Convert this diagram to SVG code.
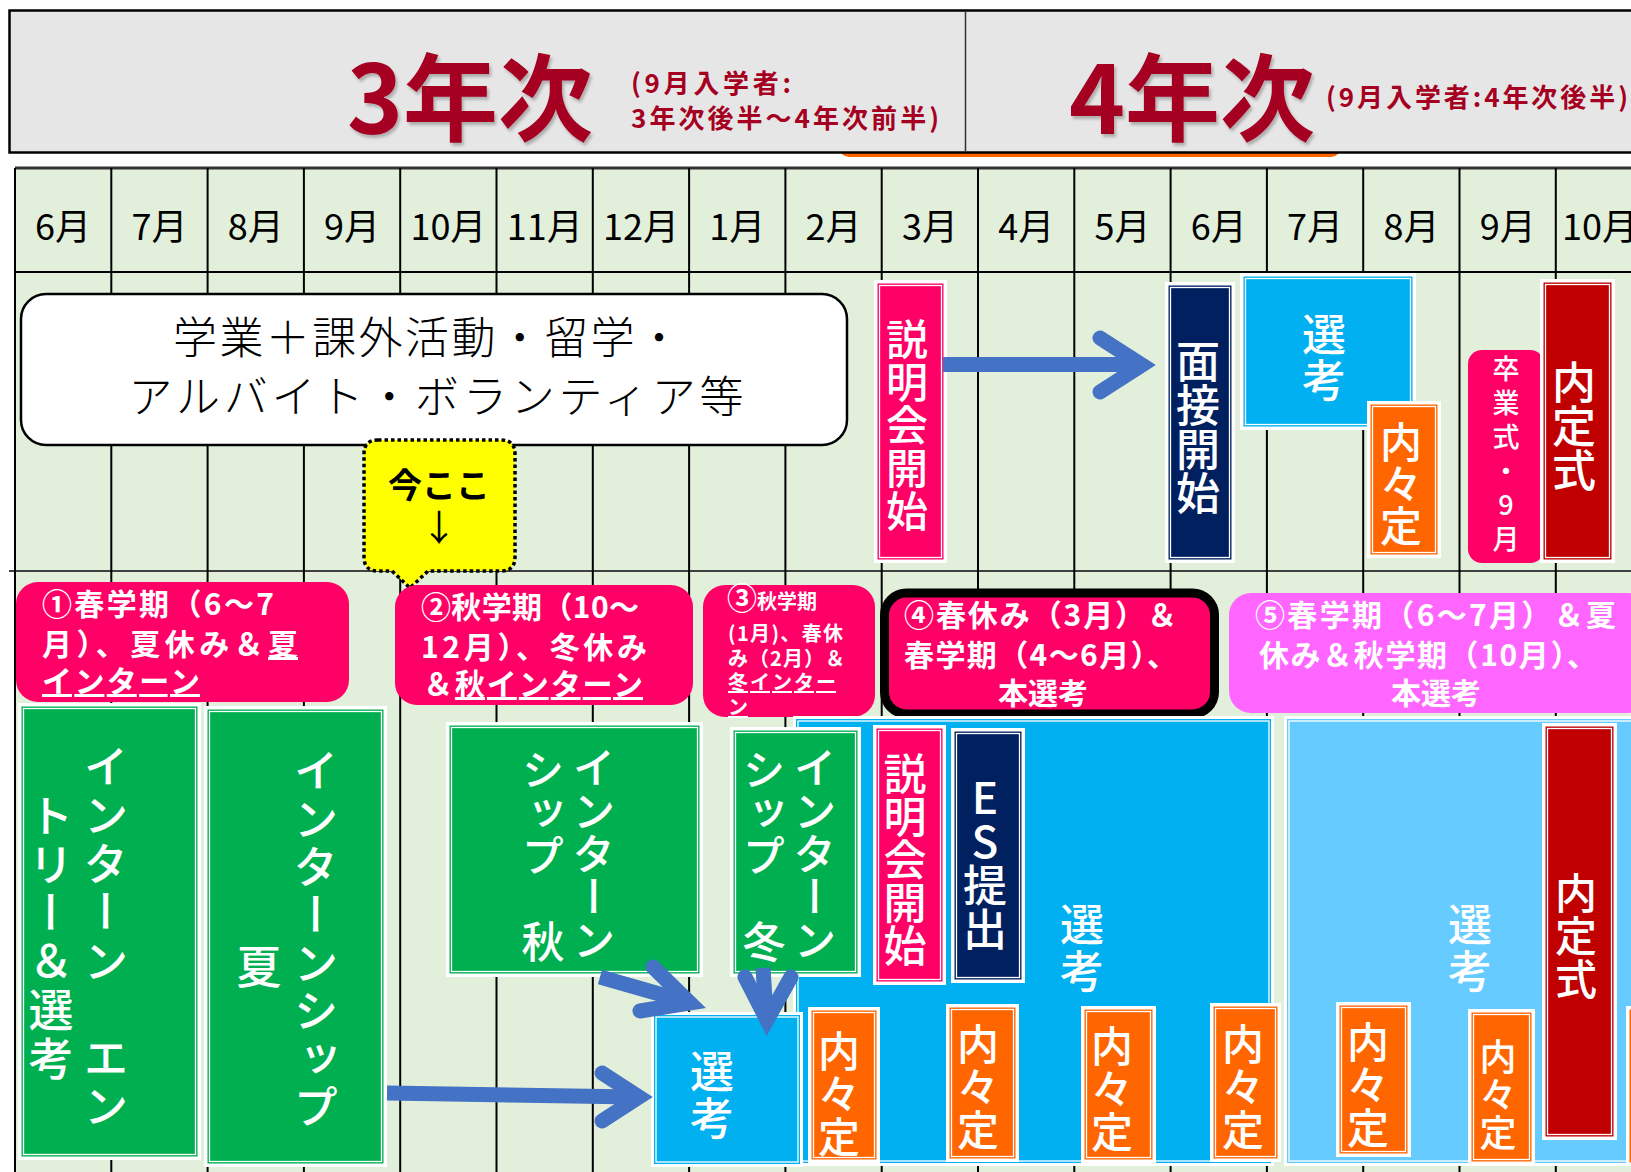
<svg xmlns="http://www.w3.org/2000/svg" width="1631" height="1172" viewBox="0 0 1631 1172">
<defs>
<style>
.jp{font-family:"Noto Sans CJK JP",sans-serif}
.mon{font-family:"Noto Sans CJK JP",sans-serif;font-size:36px;text-anchor:middle;fill:#000}
.ttl{font-family:"Noto Sans CJK JP",sans-serif;font-weight:bold;fill:#A50021}
.gl{stroke:#000;stroke-width:2}
.vt{writing-mode:vertical-rl;text-anchor:middle;fill:#fff;font-family:"Noto Sans CJK JP",sans-serif;font-weight:500}
.pt{fill:#fff;font-family:"Noto Sans CJK JP",sans-serif;font-weight:bold;font-size:30px}
.ps{fill:#fff;font-family:"Noto Sans CJK JP",sans-serif;font-weight:bold;font-size:20px}
.ul{text-decoration:underline}
.fr{fill:#fff}
.inl{fill:none;stroke:#fff;stroke-width:1.3}
.arr{stroke:#4472C4;fill:none;stroke-width:15;stroke-linecap:round;stroke-linejoin:miter}
.shaft{stroke:#4472C4;fill:none;stroke-width:15;stroke-linecap:butt}
</style>
<filter id="sh" x="-5%" y="-5%" width="115%" height="120%">
<feDropShadow dx="2" dy="3" stdDeviation="1.5" flood-color="#000" flood-opacity="0.25"/>
</filter>
</defs>
<rect width="1631" height="1172" fill="#fff"/>

<g id="header">
<rect x="839" y="128" width="502" height="29" rx="10" fill="#FF6600"/>
<rect x="9.5" y="10.5" width="1700" height="142" fill="#E6E6E6" stroke="#000" stroke-width="2.5"/>
<line x1="965.5" y1="11" x2="965.5" y2="152" stroke="#333" stroke-width="1.5"/>
<text class="ttl" x="347" y="134" font-size="95" filter="url(#sh)">3年次</text>
<text class="ttl" x="631" y="93" font-size="26" textLength="160">(9月入学者:</text>
<text class="ttl" x="631" y="128" font-size="26" textLength="308">3年次後半〜4年次前半)</text>
<text class="ttl" x="1069" y="134" font-size="95" filter="url(#sh)">4年次</text>
<text class="ttl" x="1326" y="107" font-size="26" textLength="302">(9月入学者:4年次後半)</text>
</g>

<g id="grid">
<rect x="15" y="168" width="1616" height="1004" fill="#E2EFDA"/>
<line x1="15" y1="168" x2="1631" y2="168" stroke="#333" stroke-width="3"/>
<line x1="15" y1="272" x2="1631" y2="272" class="gl"/>
<line x1="9" y1="571" x2="1631" y2="571" stroke="#404040" stroke-width="2"/>
<g class="gl">
<line x1="15" y1="168" x2="15" y2="1172"/>
<line x1="111.3" y1="168" x2="111.3" y2="1172"/>
<line x1="207.6" y1="168" x2="207.6" y2="1172"/>
<line x1="303.9" y1="168" x2="303.9" y2="1172"/>
<line x1="400.2" y1="168" x2="400.2" y2="1172"/>
<line x1="496.5" y1="168" x2="496.5" y2="1172"/>
<line x1="592.8" y1="168" x2="592.8" y2="1172"/>
<line x1="689.1" y1="168" x2="689.1" y2="1172"/>
<line x1="785.4" y1="168" x2="785.4" y2="1172"/>
<line x1="881.7" y1="168" x2="881.7" y2="1172"/>
<line x1="978" y1="168" x2="978" y2="1172"/>
<line x1="1074.3" y1="168" x2="1074.3" y2="1172"/>
<line x1="1170.6" y1="168" x2="1170.6" y2="1172"/>
<line x1="1266.9" y1="168" x2="1266.9" y2="1172"/>
<line x1="1363.2" y1="168" x2="1363.2" y2="1172"/>
<line x1="1459.5" y1="168" x2="1459.5" y2="1172"/>
<line x1="1555.8" y1="168" x2="1555.8" y2="1172"/>
</g>
<g class="mon">
<text x="63" y="240">6月</text>
<text x="159.5" y="240">7月</text>
<text x="255.8" y="240">8月</text>
<text x="352" y="240">9月</text>
<text x="448.4" y="240">10月</text>
<text x="544.7" y="240">11月</text>
<text x="641" y="240">12月</text>
<text x="737.3" y="240">1月</text>
<text x="833.6" y="240">2月</text>
<text x="929.9" y="240">3月</text>
<text x="1026.2" y="240">4月</text>
<text x="1122.5" y="240">5月</text>
<text x="1218.8" y="240">6月</text>
<text x="1315" y="240">7月</text>
<text x="1411.4" y="240">8月</text>
<text x="1507.7" y="240">9月</text>
<text x="1600" y="240">10月</text>
</g>
</g>

<g id="activities">
<rect x="21" y="294" width="826" height="151" rx="25" fill="#fff" stroke="#000" stroke-width="2.5"/>
<text class="jp" x="427" y="354" font-size="44" font-weight="300" text-anchor="middle" textLength="508">学業＋課外活動・留学・</text>
<text class="jp" x="436" y="413" font-size="44" font-weight="300" text-anchor="middle" textLength="615">アルバイト・ボランティア等</text>
</g>

<g id="now-here">
<path d="M378,440 H501 Q515,440 515,454 V557 Q515,571 501,571 H428 L410,588 L392,571 H378 Q364,571 364,557 V454 Q364,440 378,440 Z" fill="#FFFF00" stroke="#000" stroke-width="3.5" stroke-dasharray="3.5 3"/>
<text class="jp" x="439" y="498" font-size="34" font-weight="bold" text-anchor="middle">今ここ</text>
<text class="jp" x="439" y="541" font-size="36" text-anchor="middle">↓</text>
</g>

<g id="setsumeikai-top">
<rect class="fr" x="874" y="280" width="73" height="283"/>
<rect x="877.5" y="283.5" width="66" height="276" fill="#FF0066"/>
<rect class="inl" x="879.5" y="285.5" width="62" height="272"/>
<text class="vt" x="907" y="426" font-size="42" letter-spacing="1">説明会開始</text>
</g>

<g id="mensetsu">
<rect class="fr" x="1165" y="282" width="70" height="281"/>
<rect x="1168.5" y="285.5" width="63" height="274" fill="#002060"/>
<rect class="inl" x="1170.5" y="287.5" width="59" height="270"/>
<text class="vt" x="1198" y="427" font-size="44">面接開始</text>
</g>

<g id="senkou-top">
<rect class="fr" x="1240" y="273" width="176" height="157"/>
<rect x="1243.5" y="276.5" width="169" height="150" fill="#00B0F0"/>
<rect class="inl" x="1245.5" y="278.5" width="165" height="146"/>
<text class="vt" x="1324" y="358" font-size="44" letter-spacing="2">選考</text>
</g>

<g id="naitei-top">
<rect class="fr" x="1367" y="401" width="74" height="157"/>
<rect x="1370.5" y="404.5" width="67" height="150" fill="#FF6600"/>
<rect class="inl" x="1372.5" y="406.5" width="63" height="146"/>
<text class="vt" x="1401" y="484" font-size="42">内々定</text>
</g>

<g id="sotsugyou">
<rect x="1468" y="350" width="76" height="213" rx="14" fill="#FF0066"/>
<text class="vt" x="1506" y="457" font-size="27" letter-spacing="7" style="text-orientation:upright">卒業式・9月</text>
</g>

<g id="naiteishiki-top">
<rect class="fr" x="1540" y="279" width="75" height="284"/>
<rect x="1543.5" y="282.5" width="68" height="277" fill="#C00000"/>
<rect class="inl" x="1545.5" y="284.5" width="64" height="273"/>
<text class="vt" x="1574" y="426" font-size="44">内定式</text>
</g>

<g id="period1">
<rect x="16" y="582" width="333" height="120" rx="22" fill="#FF0066"/>
<text class="pt" x="42" y="615" textLength="232">①春学期（6〜7</text>
<text class="pt" x="42" y="655" textLength="256">月）、夏休み＆<tspan class="ul">夏</tspan></text>
<text class="pt" x="42" y="692" textLength="158"><tspan class="ul">インターン</tspan></text>
</g>

<g id="period2">
<rect x="395" y="585" width="298" height="120" rx="22" fill="#FF0066"/>
<text class="pt" x="421" y="618" textLength="218">②秋学期（10〜</text>
<text class="pt" x="421" y="658" textLength="226">12月）、冬休み</text>
<text class="pt" x="423" y="695" textLength="220">＆<tspan class="ul">秋インターン</tspan></text>
</g>

<g id="period3">
<rect x="703" y="585" width="172" height="132" rx="22" fill="#FF0066"/>
<text class="ps" x="727" y="609"><tspan style="font-size:30px">③</tspan>秋学期</text>
<text class="ps" x="728" y="641" textLength="115">(1月)、春休</text>
<text class="ps" x="728" y="666" textLength="117">み（2月）＆</text>
<text class="ps" x="728" y="690" textLength="108"><tspan class="ul">冬インター</tspan></text>
<text class="ps" x="728" y="715"><tspan class="ul">ン</tspan></text>
</g>

<g id="period4">
<rect x="884.5" y="593" width="330" height="121" rx="22" fill="#FF0066" stroke="#000" stroke-width="9"/>
<text class="pt" x="904" y="626" textLength="273">④春休み（3月）＆</text>
<text class="pt" x="904" y="666" textLength="273">春学期（4〜6月）、</text>
<text class="pt" x="1043" y="704" text-anchor="middle">本選考</text>
</g>

<g id="period5">
<rect x="1229" y="593" width="420" height="120" rx="22" fill="#FF66FF"/>
<text class="pt" x="1255" y="626" textLength="361">⑤春学期（6〜7月）＆夏</text>
<text class="pt" x="1259" y="666" textLength="338">休み＆秋学期（10月）、</text>
<text class="pt" x="1436" y="704" text-anchor="middle">本選考</text>
</g>

<g id="senkou-main">
<rect class="fr" x="793" y="716" width="481" height="450"/>
<rect x="796" y="719" width="475" height="444" fill="#00B0F0"/>
<rect class="inl" x="798" y="721" width="471" height="440"/>
<text class="vt" x="1082" y="949" font-size="44" letter-spacing="3">選考</text>
</g>

<g id="senkou-light">
<rect class="fr" x="1284" y="716" width="400" height="450"/>
<rect x="1287" y="719" width="394" height="444" fill="#66CCFF"/>
<rect class="inl" x="1289" y="721" width="390" height="440"/>
<text class="vt" x="1470" y="949" font-size="44" letter-spacing="3">選考</text>
</g>

<g id="intern-entry">
<rect class="fr" x="18" y="703" width="183" height="457"/>
<rect x="21.5" y="706.5" width="176" height="450" fill="#00B050"/>
<rect class="inl" x="23.5" y="708.5" width="172" height="446"/>
<text class="vt" x="106" y="938" font-size="45" letter-spacing="3.5">インターン　エン</text>
<text class="vt" x="51" y="939" font-size="45" letter-spacing="3.5">トリー＆選考</text>
</g>

<g id="intern-summer">
<rect class="fr" x="204" y="706" width="183" height="461"/>
<rect x="207.5" y="709.5" width="176" height="454" fill="#00B050"/>
<rect class="inl" x="209.5" y="711.5" width="172" height="450"/>
<text class="vt" x="316" y="940" font-size="45" letter-spacing="3">インターンシップ</text>
<text class="vt" x="259" y="967" font-size="45">夏</text>
</g>

<g id="intern-autumn">
<rect class="fr" x="446" y="722" width="257" height="255"/>
<rect x="449.5" y="725.5" width="250" height="248" fill="#00B050"/>
<rect class="inl" x="451.5" y="727.5" width="246" height="244"/>
<text class="vt" x="594" y="854" font-size="43">インターン</text>
<text class="vt" x="543" y="856" font-size="43">シップ　秋</text>
</g>

<g id="intern-winter">
<rect class="fr" x="730" y="727" width="131" height="250"/>
<rect x="733.5" y="730.5" width="124" height="243" fill="#00B050"/>
<rect class="inl" x="735.5" y="732.5" width="120" height="239"/>
<text class="vt" x="815" y="854" font-size="43">インターン</text>
<text class="vt" x="764" y="856" font-size="43">シップ　冬</text>
</g>

<g id="setsumeikai-bottom">
<rect class="fr" x="873" y="725" width="73" height="260"/>
<rect x="876.5" y="728.5" width="66" height="253" fill="#FF0066"/>
<rect class="inl" x="878.5" y="730.5" width="62" height="249"/>
<text class="vt" x="905" y="860" font-size="43">説明会開始</text>
</g>

<g id="es">
<rect class="fr" x="951" y="728" width="74" height="255"/>
<rect x="954.5" y="731.5" width="67" height="248" fill="#002060"/>
<rect class="inl" x="956.5" y="733.5" width="63" height="244"/>
<text class="vt" x="985" y="863" font-size="44" style="text-orientation:upright">ES提出</text>
</g>

<g id="senkou-small">
<rect class="fr" x="651" y="1012" width="152" height="155"/>
<rect x="654" y="1015" width="146" height="149" fill="#00B0F0"/>
<rect class="inl" x="656" y="1017" width="142" height="145"/>
<text class="vt" x="712" y="1096" font-size="44" letter-spacing="3">選考</text>
</g>

<g id="naitei-1">
<rect class="fr" x="808" y="1007" width="72" height="156"/>
<rect x="811.5" y="1010.5" width="65" height="149" fill="#FF6600"/>
<rect class="inl" x="813.5" y="1012.5" width="61" height="145"/>
<text class="vt" x="839" y="1095" font-size="42" letter-spacing="1">内々定</text>
</g>
<g id="naitei-2">
<rect class="fr" x="946" y="1004" width="73" height="158"/>
<rect x="949.5" y="1007.5" width="66" height="151" fill="#FF6600"/>
<rect class="inl" x="951.5" y="1009.5" width="62" height="147"/>
<text class="vt" x="978" y="1088" font-size="42" letter-spacing="1">内々定</text>
</g>
<g id="naitei-3">
<rect class="fr" x="1081" y="1006" width="75" height="157"/>
<rect x="1084.5" y="1009.5" width="68" height="150" fill="#FF6600"/>
<rect class="inl" x="1086.5" y="1011.5" width="64" height="146"/>
<text class="vt" x="1112" y="1090" font-size="42" letter-spacing="1">内々定</text>
</g>
<g id="naitei-4">
<rect class="fr" x="1210" y="1003" width="71" height="159"/>
<rect x="1213.5" y="1006.5" width="64" height="152" fill="#FF6600"/>
<rect class="inl" x="1215.5" y="1008.5" width="60" height="148"/>
<text class="vt" x="1243" y="1088" font-size="42" letter-spacing="1">内々定</text>
</g>
<g id="naitei-5">
<rect class="fr" x="1336" y="1002" width="75" height="155"/>
<rect x="1339.5" y="1005.5" width="68" height="148" fill="#FF6600"/>
<rect class="inl" x="1341.5" y="1007.5" width="64" height="144"/>
<text class="vt" x="1368" y="1086" font-size="42" letter-spacing="1">内々定</text>
</g>
<g id="naitei-6">
<rect class="fr" x="1468" y="1009" width="67" height="156"/>
<rect x="1471.5" y="1012.5" width="60" height="149" fill="#FF6600"/>
<rect class="inl" x="1473.5" y="1014.5" width="56" height="145"/>
<text class="vt" x="1498" y="1095" font-size="37" letter-spacing="1">内々定</text>
</g>
<g id="naitei-7">
<rect class="fr" x="1626" y="1006" width="70" height="160"/>
<rect x="1629.5" y="1009.5" width="63" height="153" fill="#FF6600"/>
</g>

<g id="naiteishiki-bottom">
<rect class="fr" x="1542" y="723" width="75" height="417"/>
<rect x="1545.5" y="726.5" width="68" height="410" fill="#C00000"/>
<rect class="inl" x="1547.5" y="728.5" width="64" height="406"/>
<text class="vt" x="1576" y="937" font-size="42" letter-spacing="1">内定式</text>
</g>

<g id="connectors">
<line class="shaft" x1="943" y1="364.5" x2="1138" y2="364.5"/>
<polyline class="arr" points="1100,338 1142,365 1100,392"/>
<line class="shaft" x1="387" y1="1093" x2="636" y2="1097"/>
<polyline class="arr" points="602,1073 639,1097 602,1121"/>
<line class="shaft" x1="600" y1="977" x2="684" y2="1001"/>
<polyline class="arr" points="653,967 690,1003 640,1011"/>
<line class="shaft" x1="763" y1="968" x2="766" y2="1015"/>
<polyline class="arr" points="745,977 767,1020 791,977"/>
</g>
</svg>
